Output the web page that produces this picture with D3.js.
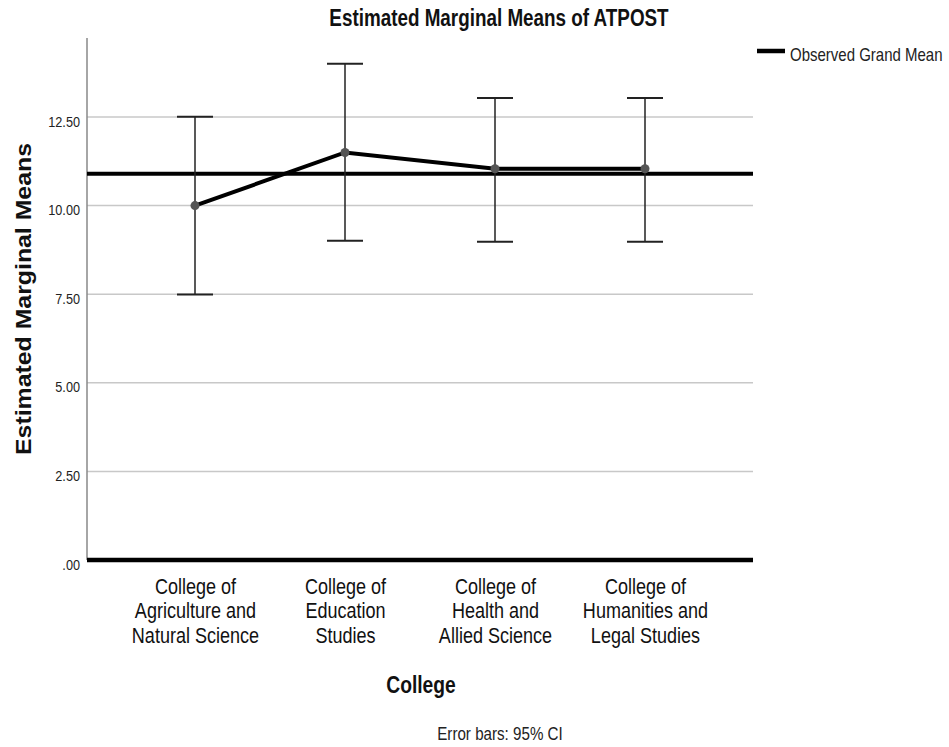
<!DOCTYPE html>
<html><head><meta charset="utf-8">
<script src="https://cdn.jsdelivr.net/npm/d3@7"></script>
<style>
body{margin:0;background:#fff;}
text{font-family:"Liberation Sans",Arial,sans-serif;}
</style></head>
<body><svg id="chart" width="949" height="747"></svg>
<script>
const categories = [
  ["College of","Agriculture and","Natural Science"],
  ["College of","Education","Studies"],
  ["College of","Health and","Allied Science"],
  ["College of","Humanities and","Legal Studies"]
];
const means = [10.00, 11.50, 11.04, 11.04];
const ciLower = [7.49, 9.01, 8.98, 8.98];
const ciUpper = [12.51, 14.00, 13.04, 13.04];
const grandMean = 10.90;
const yTicks = [0, 2.5, 5, 7.5, 10, 12.5];
const yTickLabels = [".00","2.50","5.00","7.50","10.00","12.50"];

const NARROW = 0.82;
const svg = d3.select("#chart");
const pLeft = 87, pRight = 753, pTop = 38, pBottom = 560;
const keys = categories.map((c,i)=>i);
const x = d3.scalePoint().domain(keys).range([pLeft,pRight]).padding(0.72);
const y = d3.scaleLinear().domain([0,14.73]).range([pBottom,pTop]);

function narrowText(parent, tx, ty, size, weight, anchor, str, fill){
  return parent.append("text")
    .attr("transform",`translate(${tx},${ty}) scale(${NARROW},1)`)
    .attr("text-anchor",anchor).attr("font-size",size).attr("font-weight",weight)
    .attr("fill",fill||"#111").text(str);
}

// grid
svg.append("g").selectAll("line").data(yTicks.filter(t=>t>0)).join("line")
  .attr("x1",pLeft).attr("x2",pRight).attr("y1",d=>y(d)).attr("y2",d=>y(d))
  .attr("stroke","#c8c8c8").attr("stroke-width",1.5);

// y axis
const yAxis = d3.axisLeft(y).tickValues(yTicks).tickFormat((d,i)=>yTickLabels[i]).tickSize(0).tickPadding(7);
const gy = svg.append("g").attr("transform",`translate(${pLeft},0)`).call(yAxis);
gy.select(".domain").remove();
gy.selectAll("text").attr("font-size",15.5).attr("fill","#222")
  .attr("font-family","'Liberation Sans',Arial,sans-serif")
  .attr("x",-7/NARROW).attr("dy",null).attr("y",9)
  .attr("transform",`scale(${NARROW},1)`);
svg.append("line").attr("x1",pLeft).attr("x2",pLeft).attr("y1",pTop).attr("y2",pBottom)
  .attr("stroke","#888").attr("stroke-width",1.5);

// x axis labels
const xAxis = d3.axisBottom(x).tickSize(0).tickFormat("");
const gx = svg.append("g").attr("transform",`translate(0,${pBottom})`).call(xAxis);
gx.select(".domain").remove();
gx.selectAll(".tick").each(function(d){
  const t = d3.select(this).append("text").attr("text-anchor","middle")
    .attr("font-size",22).attr("fill","#111")
    .attr("transform",`scale(${NARROW},1)`);
  categories[d].forEach((line,j)=>{
    t.append("tspan").attr("x",0).attr("y",34+j*24.3).text(line);
  });
});
// x baseline
svg.append("line").attr("x1",pLeft).attr("x2",pRight).attr("y1",y(0)).attr("y2",y(0))
  .attr("stroke","#000").attr("stroke-width",4.5);

// grand mean
svg.append("line").attr("x1",pLeft).attr("x2",pRight).attr("y1",y(grandMean)).attr("y2",y(grandMean))
  .attr("stroke","#000").attr("stroke-width",4);

// error bars
const eb = svg.append("g").attr("stroke","#222").attr("stroke-width",1.5);
keys.forEach(i=>{
  eb.append("line").attr("x1",x(i)).attr("x2",x(i)).attr("y1",y(ciLower[i])).attr("y2",y(ciUpper[i]));
  [ciLower[i],ciUpper[i]].forEach(v=>{
    eb.append("line").attr("x1",x(i)-18).attr("x2",x(i)+18).attr("y1",y(v)).attr("y2",y(v)).attr("stroke-width",2);
  });
});

// means line
svg.append("path").datum(keys)
  .attr("d",d3.line().x(i=>x(i)).y(i=>y(means[i])))
  .attr("fill","none").attr("stroke","#000").attr("stroke-width",4);
svg.append("g").selectAll("circle").data(keys).join("circle")
  .attr("cx",i=>x(i)).attr("cy",i=>y(means[i])).attr("r",4.5).attr("fill","#555");

// title
narrowText(svg, 499, 26, 23, "bold", "middle", "Estimated Marginal Means of ATPOST");
// y title
svg.append("text").attr("transform",`translate(31,299) rotate(-90)`)
  .attr("text-anchor","middle").attr("font-size",22.5).attr("font-weight","bold")
  .attr("textLength",312).attr("lengthAdjust","spacingAndGlyphs")
  .attr("fill","#111")
  .text("Estimated Marginal Means");
// x title
narrowText(svg, 421, 693, 23.5, "bold", "middle", "College");
// footnote
narrowText(svg, 500, 740, 18.5, "normal", "middle", "Error bars: 95% CI", "#222");
// legend
svg.append("line").attr("x1",757).attr("x2",785).attr("y1",51).attr("y2",51)
  .attr("stroke","#000").attr("stroke-width",4.5);
narrowText(svg, 790, 61, 18.3, "normal", "start", "Observed Grand Mean", "#222");
</script></body></html>
